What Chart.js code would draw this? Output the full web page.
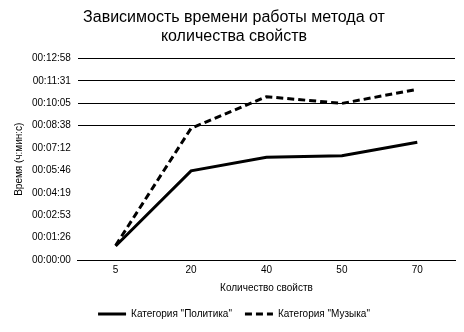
<!DOCTYPE html>
<html>
<head>
<meta charset="utf-8">
<script src="https://cdn.jsdelivr.net/npm/chart.js@4"></script>
<style>
  html, body { margin: 0; padding: 0; background: #fff; }
  #wrap { width: 464px; height: 332px; }
</style>
</head>
<body>
<div id="wrap"><canvas id="chart"></canvas></div>
<script>
const categories = ['5', '20', '40', '50', '70'];
const politika = ['00:00:54', '00:05:44', '00:06:36', '00:06:42', '00:07:34'];
const muzyka = ['00:00:56', '00:08:28', '00:10:30', '00:10:04', '00:10:58'];
const yTickLabels = ['00:00:00', '00:01:26', '00:02:53', '00:04:19', '00:05:46',
    '00:07:12', '00:08:38', '00:10:05', '00:11:31', '00:12:58'];
const STEP = 86.4; // 0.001 суток

function toSec(s) {
    const p = s.split(':').map(Number);
    return p[0] * 3600 + p[1] * 60 + p[2];
}

const FONT = "'Liberation Sans', Arial, sans-serif";

new Chart(document.getElementById('chart'), {
    type: 'line',
    data: {
        labels: categories,
        datasets: [{
            label: 'Категория "Политика"',
            data: politika.map(toSec),
            borderColor: '#000',
            backgroundColor: '#000',
            borderWidth: 3,
            pointRadius: 0,
            tension: 0
        }, {
            label: 'Категория "Музыка"',
            data: muzyka.map(toSec),
            borderColor: '#000',
            backgroundColor: '#000',
            borderWidth: 3,
            borderDash: [7, 4],
            pointRadius: 0,
            tension: 0
        }]
    },
    options: {
        responsive: true,
        maintainAspectRatio: false,
        animation: false,
        layout: { padding: { left: 13, right: 9, top: 4, bottom: 3 } },
        plugins: {
            title: {
                display: true,
                text: ['Зависимость времени работы метода от', 'количества свойств'],
                color: '#000',
                font: { family: FONT, size: 16, weight: 'normal', lineHeight: 1.2 },
                padding: { top: 4, bottom: 12 }
            },
            legend: {
                position: 'bottom',
                labels: {
                    color: '#000',
                    font: { family: FONT, size: 10 },
                    usePointStyle: true,
                    pointStyle: 'line',
                    pointStyleWidth: 28,
                    padding: 13,
                    // штрих для легенды берём прямо из набора данных
                    generateLabels: chart => {
                        const items = Chart.defaults.plugins.legend.labels.generateLabels(chart);
                        items.forEach(it => {
                            const ds = chart.data.datasets[it.datasetIndex];
                            it.lineDash = ds.borderDash || [];
                            it.lineWidth = ds.borderWidth;
                            it.strokeStyle = ds.borderColor;
                        });
                        return items;
                    }
                }
            },
            tooltip: { enabled: false }
        },
        scales: {
            x: {
                offset: true,
                grid: { display: false, drawTicks: false },
                border: { color: '#000', width: 1 },
                ticks: { color: '#000', font: { family: FONT, size: 10 }, padding: 4 },
                title: {
                    display: true,
                    text: 'Количество свойств',
                    color: '#000',
                    font: { family: FONT, size: 10 },
                    padding: { top: 2, bottom: 2 }
                }
            },
            y: {
                min: 0,
                max: STEP * (yTickLabels.length - 1),
                afterBuildTicks: scale => {
                    scale.ticks = yTickLabels.map((l, i) => ({ value: i * STEP }));
                },
                border: { display: false },
                grid: {
                    drawTicks: false,
                    color: ctx => (ctx.index === 0 || ctx.index >= 6) ? '#000' : 'rgba(0,0,0,0)',
                    lineWidth: 1
                },
                ticks: {
                    color: '#000',
                    font: { family: FONT, size: 10 },
                    padding: 7,
                    callback: (v, i) => yTickLabels[i]
                },
                title: {
                    display: true,
                    text: 'Время (ч:мин:с)',
                    color: '#000',
                    font: { family: FONT, size: 10 },
                    padding: { top: 0, bottom: 0 }
                }
            }
        }
    }
});
</script>
</body>
</html>
